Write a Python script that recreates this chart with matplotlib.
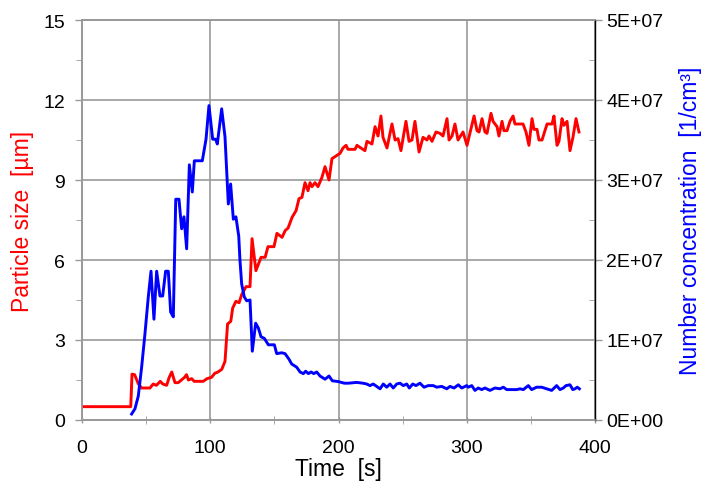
import matplotlib
matplotlib.use("Agg")
import matplotlib.pyplot as plt
from matplotlib.ticker import MultipleLocator, FuncFormatter

plt.rcParams['font.family'] = ['Liberation Sans', 'DejaVu Sans']

# Particle size (red), time [s] and size [um]
size_t = [0, 38, 39, 41, 44, 46.5, 53, 55.5, 58, 61, 63, 66, 68, 70, 72.5, 75, 77.5, 80,
          81.5, 83, 85.5, 87.5, 94.5, 97.5, 101, 103.5, 106, 109, 111.5, 113.5, 116, 117.5,
          120, 122.5, 124.5, 127.9, 131, 132.6, 135.6, 137.2, 139.6, 142.8, 145, 149.7, 152,
          156, 158.4, 160.7, 163.8, 166.9, 169.2, 171.5, 173.9, 176.2, 177.8, 179.3, 181.7,
          184, 187.1, 189.5, 192.6, 194.9, 198.1, 201.2, 203.5, 205.9, 207.4, 212.9, 214.4,
          217.5, 220.6, 222.2, 226.1, 228.5, 230.8, 233.1, 234.7, 237.8, 241.7, 244.1, 246.4,
          248.7, 252.6, 255, 257.3, 259.6, 262.8, 265.9, 269, 270.6, 272.9, 276, 279.1, 281.5,
          284.6, 286.2, 288.5, 290.8, 293.2, 297.1, 300.2, 305.7, 308, 309.6, 311.9, 314.2,
          315.8, 318.9, 320.5, 323.6, 325.1, 327.5, 329, 331.4, 333.7, 336.1, 337.6, 343.9,
          346.2, 348.5, 350.9, 352.4, 354.8, 356.3, 358.7, 361, 362.6, 366.5, 368, 370.4,
          371.9, 374.3, 375.8, 378.2, 380.5, 382.8, 385.2, 387.5]
size_v = [0.5, 0.5, 1.72, 1.7, 1.35, 1.2, 1.2, 1.35, 1.3, 1.45, 1.35, 1.3, 1.6, 1.8, 1.4, 1.4,
          1.5, 1.6, 1.7, 1.5, 1.55, 1.45, 1.45, 1.55, 1.6, 1.75, 1.8, 1.9, 2.2, 3.6, 3.7, 4.2,
          4.45, 4.4, 4.7, 5.0, 5.0, 6.8, 5.6, 5.8, 6.1, 6.1, 6.5, 6.5, 7.0,
          6.85, 7.1, 7.2, 7.6, 7.85, 8.3, 8.35, 8.9, 8.6, 8.9, 8.75, 8.9,
          8.75, 9.1, 9.5, 9.0, 9.8, 9.9, 10.0, 10.2, 10.3, 10.15, 10.15, 10.3,
          10.2, 10.1, 10.45, 10.35, 11.0, 10.65, 11.4, 10.6, 10.2, 11.1, 10.5, 10.55,
          10.1, 11.2, 10.45, 10.5, 11.2, 10.05, 10.6, 10.5, 10.65, 10.45, 10.8, 10.75, 10.65,
          11.3, 10.5, 10.65, 11.1, 10.5, 10.8, 10.3, 11.4, 10.85, 10.8, 11.3, 10.8,
          10.75, 11.5, 11.2, 11.0, 10.65, 11.2, 10.85, 10.85, 11.2, 11.4, 11.1, 11.1,
          10.8, 10.3, 11.3, 10.9, 10.9, 10.5, 10.5, 10.85, 11.1, 11.1, 11.4, 10.3,
          10.45, 11.3, 11.05, 11.2, 10.1, 10.6, 11.3, 10.8]

# Number concentration (blue), time [s] and value in units of 1E+07 1/cm3
conc_t = [38.7, 41.3, 43.9, 46.5, 49.1, 51.7, 53.8, 56.1, 58.2, 60.8, 62.9, 65.2, 67.3, 69.1,
          71.2, 73.1, 75.6, 77.7, 79.5, 81.6, 83.7, 86, 87.6, 93.8, 96.7, 99, 101.9, 104.2,
          105.5, 108.9, 111.5, 114.1, 115.9, 118, 120, 122.2, 123.2, 124.5, 126.5, 128.4, 131,
          132.8, 135.4, 137.5, 139.6, 142.2, 145.3, 150, 151.8, 155.7, 158.3, 161.4, 163.5,
          167.4, 170, 172.6, 174.4, 176.5, 178.6, 180.7, 183, 185.6, 189.5, 192.6, 195.2, 200,
          204.5, 207.6, 214.2, 219.1, 222, 224.6, 227.1, 229.8, 232.4, 234.9, 237.6, 240.2,
          242.7, 245.4, 248, 250.5, 253.2, 255.2, 257.9, 260.4, 263.5, 266.7, 270, 273.9,
          276.6, 280.5, 284.4, 286.9, 290.1, 293.4, 296.1, 300, 301.2, 303.9, 306.4, 309,
          311.7, 314.2, 318.1, 322, 325.9, 328.5, 331.2, 335.1, 339, 341.5, 344.1, 348, 350.6,
          354.5, 358.4, 362.3, 366.2, 370.1, 372.7, 375.3, 377.4, 380.5, 382.7, 384.4, 386.2,
          387.8]
conc_v = [0.075, 0.14, 0.3, 0.66, 1.08, 1.54, 1.86, 1.26, 1.86, 1.55, 1.55, 1.86, 1.86, 1.35,
          1.29, 2.76, 2.76, 2.39, 2.54, 2.14, 3.19, 2.85, 3.24, 3.24, 3.51, 3.93, 3.51, 3.51,
          3.45, 3.89, 3.54, 2.7, 2.95, 2.51, 2.54, 2.3, 1.99, 1.7, 1.54, 1.49, 1.5,
          0.86, 1.21, 1.15, 1.04, 1.02, 0.94, 0.94, 0.83, 0.84, 0.83, 0.76, 0.7,
          0.66, 0.6, 0.58, 0.61, 0.58, 0.6, 0.58, 0.6, 0.55, 0.51, 0.55, 0.49, 0.48,
          0.46, 0.46, 0.47, 0.46, 0.45, 0.43, 0.45, 0.42, 0.39, 0.45, 0.41, 0.45,
          0.4, 0.45, 0.46, 0.43, 0.45, 0.4, 0.45, 0.43, 0.46, 0.41, 0.43, 0.43,
          0.41, 0.42, 0.39, 0.42, 0.4, 0.44, 0.4, 0.43, 0.41, 0.43, 0.37, 0.4,
          0.38, 0.4, 0.37, 0.4, 0.39, 0.41, 0.38, 0.38, 0.38, 0.39, 0.38, 0.43, 0.38,
          0.41, 0.41, 0.39, 0.37, 0.43, 0.38, 0.4, 0.43, 0.44, 0.38, 0.39, 0.41,
          0.39]
conc_v = [v * 1e7 for v in conc_v]

x_ticks = [0, 100, 200, 300, 400]
left_ticks = [0, 3, 6, 9, 12, 15]
right_ticks = [0, 1e7, 2e7, 3e7, 4e7, 5e7]

fig = plt.figure(figsize=(7.14, 4.89), dpi=100)
ax = fig.add_axes([82/714, (489-421)/489, (595-82)/714, 400/489])
ax2 = ax.twinx()

ax.set_xlim(0, 400)
ax.set_ylim(0, 15)
ax2.set_ylim(0, 5e7)

ax.set_xticks(x_ticks)
ax.set_yticks(left_ticks)
ax2.set_yticks(right_ticks)
ax.xaxis.set_minor_locator(MultipleLocator(50))
ax.yaxis.set_minor_locator(MultipleLocator(1.5))
ax2.yaxis.set_minor_locator(MultipleLocator(5e6))
ax2.yaxis.set_major_formatter(FuncFormatter(lambda v, p: "%dE+%02d" % (round(v/1e7), 7) if v > 0 else "0E+00"))

ax.grid(True, which='major', color='#999999', linewidth=1.2)
ax.set_axisbelow(True)

ax.plot(size_t, size_v, color='#ff0000', linewidth=2.1, zorder=3)
ax2.plot(conc_t, conc_v, color='#0000ff', linewidth=2.1, zorder=3)

for a in (ax, ax2):
    for s in a.spines.values():
        s.set_color('#999999')
        s.set_linewidth(1.2)
ax2.spines['right'].set_color('black')
ax2.spines['right'].set_linewidth(1.0)

ax.tick_params(axis='both', which='major', labelsize=14, color='#999999', length=5, width=1)
ax.tick_params(axis='x', which='both', direction='inout')
ax.tick_params(axis='x', which='major', pad=11)
ax.tick_params(axis='y', which='major', pad=7)
ax.tick_params(axis='x', which='minor', length=6, color='#999999')
ax.tick_params(axis='y', which='minor', length=4, color='#999999')
ax2.tick_params(axis='y', which='major', labelsize=14, color='#999999', length=5, width=1, pad=3)
ax2.tick_params(axis='y', which='minor', direction='in', length=4, color='#999999')

ax.set_xlabel("Time  [s]", fontsize=16.5, labelpad=1)
ax.set_ylabel("Particle size  [µm]", fontsize=16.5, color='#ff0000', labelpad=7)
ax2.set_ylabel("Number concentration  [1/cm³]", fontsize=16.5, color='#0000ff', labelpad=11)

fig.savefig("out.png", dpi=100)
